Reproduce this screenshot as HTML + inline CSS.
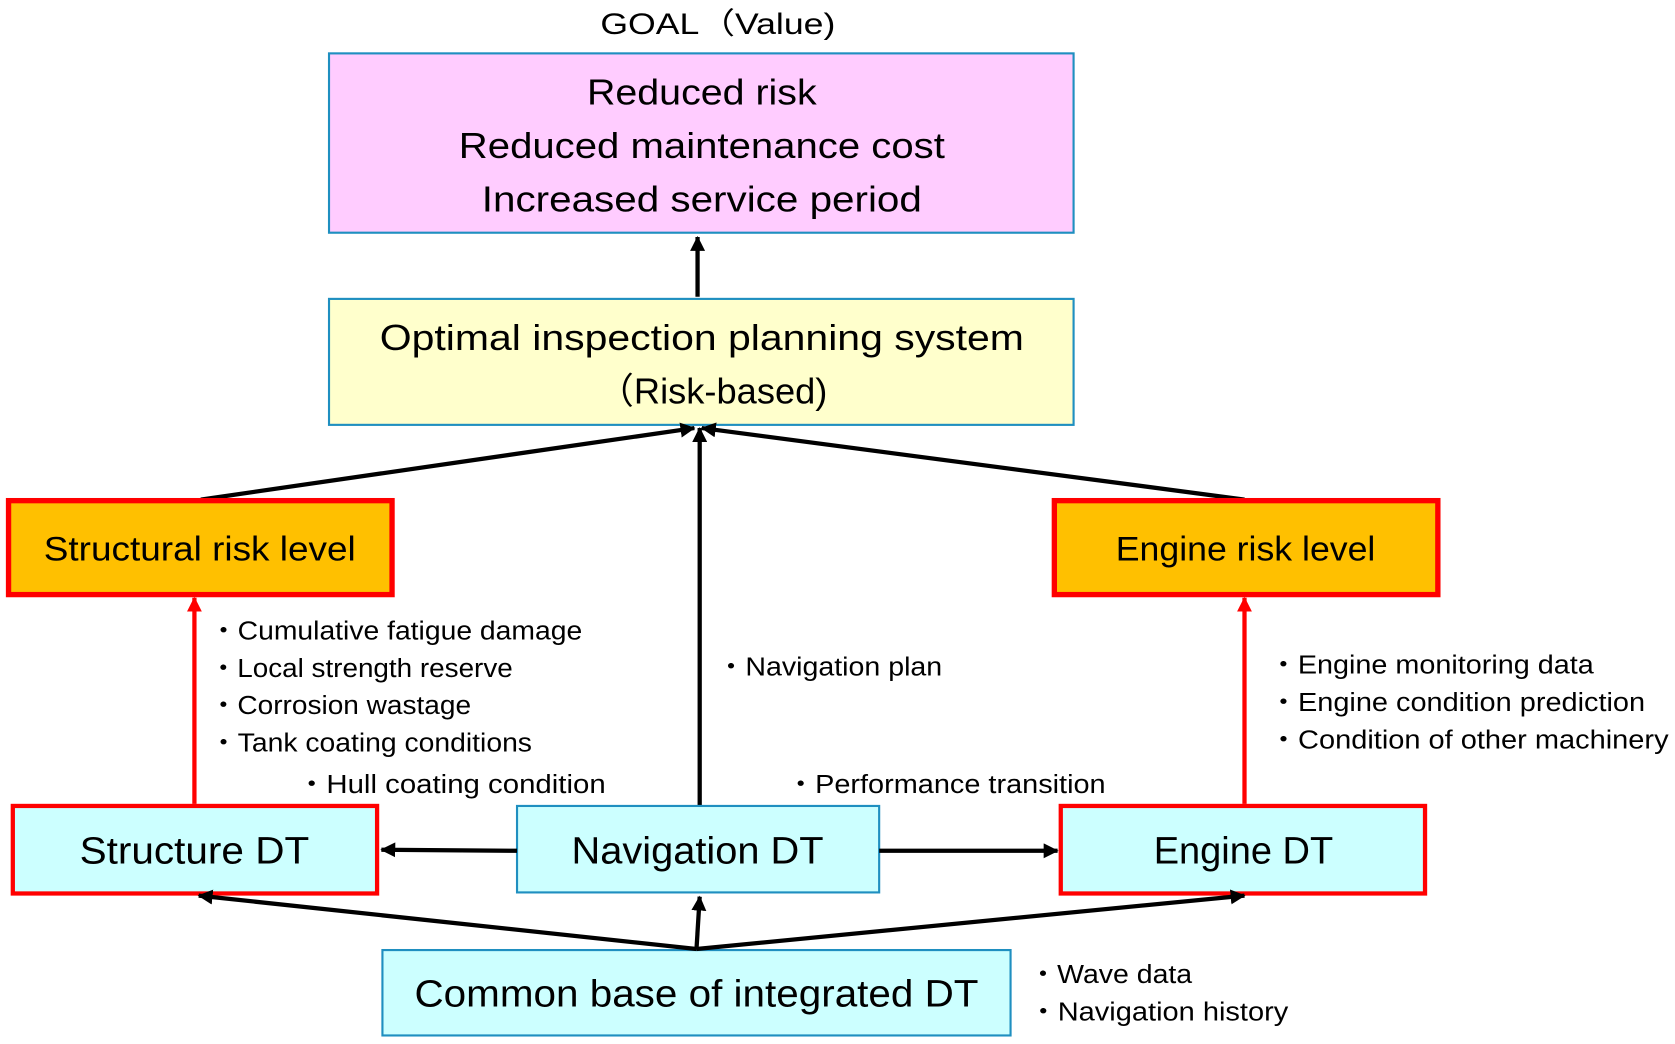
<!DOCTYPE html>
<html><head><meta charset="utf-8"><style>html,body{margin:0;padding:0;background:#fff}svg{display:block}</style></head><body>
<svg width="1675" height="1044" viewBox="0 0 1568 978" preserveAspectRatio="none" xmlns="http://www.w3.org/2000/svg" font-family="Liberation Sans, Noto Sans CJK JP, sans-serif">
<defs>
<marker id="ar" markerWidth="14" markerHeight="14" refX="13" refY="7" orient="auto" markerUnits="userSpaceOnUse"><path d="M0,0 L14,7 L0,14 z" fill="#f00"/></marker>
<marker id="ab2" markerWidth="14" markerHeight="14" refX="13" refY="7" orient="auto" markerUnits="userSpaceOnUse"><path d="M0,0 L14,7 L0,14 z" fill="#000"/></marker>
</defs>
<text x="672" y="32" font-size="28" text-anchor="middle" textLength="220" lengthAdjust="spacingAndGlyphs">GOAL（Value)</text>
<rect x="308" y="50" width="697" height="168" fill="#ffccff" stroke="#1f8fc0" stroke-width="2"/>
<g font-size="34" text-anchor="middle">
<text x="657" y="98" textLength="215" lengthAdjust="spacingAndGlyphs">Reduced risk</text>
<text x="657" y="148" textLength="455" lengthAdjust="spacingAndGlyphs">Reduced maintenance cost</text>
<text x="657" y="198" textLength="412" lengthAdjust="spacingAndGlyphs">Increased service period</text>
</g>
<line x1="653" y1="278" x2="653" y2="222" stroke="#000" stroke-width="4" marker-end="url(#ab2)"/>
<rect x="308" y="280" width="697" height="118" fill="#ffffcc" stroke="#1f8fc0" stroke-width="2"/>
<g font-size="34" text-anchor="middle">
<text x="657" y="328" textLength="603" lengthAdjust="spacingAndGlyphs">Optimal inspection planning system</text>
<text x="667" y="378" textLength="215" lengthAdjust="spacingAndGlyphs">（Risk-based)</text>
</g>
<line x1="188" y1="468" x2="650" y2="401" stroke="#000" stroke-width="4" marker-end="url(#ab2)"/>
<line x1="1165" y1="468" x2="657" y2="401" stroke="#000" stroke-width="4" marker-end="url(#ab2)"/>
<line x1="655" y1="755" x2="655" y2="401" stroke="#000" stroke-width="4" marker-end="url(#ab2)"/>
<rect x="8" y="469" width="359" height="88" fill="#ffc000" stroke="#f00" stroke-width="5"/>
<text x="187" y="525" font-size="32" text-anchor="middle" textLength="292" lengthAdjust="spacingAndGlyphs">Structural risk level</text>
<rect x="987" y="469" width="359" height="88" fill="#ffc000" stroke="#f00" stroke-width="5"/>
<text x="1166" y="525" font-size="32" text-anchor="middle" textLength="243" lengthAdjust="spacingAndGlyphs">Engine risk level</text>
<line x1="182" y1="753" x2="182" y2="560" stroke="#f00" stroke-width="4" marker-end="url(#ar)"/>
<line x1="1165" y1="753" x2="1165" y2="560" stroke="#f00" stroke-width="4" marker-end="url(#ar)"/>
<g font-size="24" lengthAdjust="spacingAndGlyphs">
<text x="196" y="599" textLength="349" lengthAdjust="spacingAndGlyphs">・Cumulative fatigue damage</text>
<text x="196" y="634" textLength="284" lengthAdjust="spacingAndGlyphs">・Local strength reserve</text>
<text x="196" y="669" textLength="245" lengthAdjust="spacingAndGlyphs">・Corrosion wastage</text>
<text x="196" y="704" textLength="302" lengthAdjust="spacingAndGlyphs">・Tank coating conditions</text>
<text x="278" y="743" textLength="289" lengthAdjust="spacingAndGlyphs">・Hull coating condition</text>
<text x="671" y="633" textLength="211" lengthAdjust="spacingAndGlyphs">・Navigation plan</text>
<text x="736" y="743" textLength="299" lengthAdjust="spacingAndGlyphs">・Performance transition</text>
<text x="1188" y="631" textLength="304" lengthAdjust="spacingAndGlyphs">・Engine monitoring data</text>
<text x="1188" y="666" textLength="352" lengthAdjust="spacingAndGlyphs">・Engine condition prediction</text>
<text x="1188" y="701" textLength="374" lengthAdjust="spacingAndGlyphs">・Condition of other machinery</text>
<text x="963" y="921" textLength="153" lengthAdjust="spacingAndGlyphs">・Wave data</text>
<text x="963" y="956" textLength="243" lengthAdjust="spacingAndGlyphs">・Navigation history</text>
</g>
<rect x="12" y="755" width="341" height="82" fill="#ccffff" stroke="#f00" stroke-width="4"/>
<text x="182" y="809" font-size="36" text-anchor="middle" textLength="215" lengthAdjust="spacingAndGlyphs">Structure DT</text>
<rect x="484" y="755" width="339" height="81" fill="#ccffff" stroke="#1f8fc0" stroke-width="2"/>
<text x="653" y="809" font-size="36" text-anchor="middle" textLength="236" lengthAdjust="spacingAndGlyphs">Navigation DT</text>
<rect x="993" y="755" width="341" height="82" fill="#ccffff" stroke="#f00" stroke-width="4"/>
<text x="1164" y="809" font-size="36" text-anchor="middle" textLength="168" lengthAdjust="spacingAndGlyphs">Engine DT</text>
<line x1="484" y1="797" x2="357" y2="796" stroke="#000" stroke-width="4" marker-end="url(#ab2)"/>
<line x1="823" y1="797" x2="990" y2="797" stroke="#000" stroke-width="4" marker-end="url(#ab2)"/>
<rect x="358" y="890" width="588" height="80" fill="#ccffff" stroke="#1f8fc0" stroke-width="2"/>
<text x="652" y="943" font-size="36" text-anchor="middle" textLength="528" lengthAdjust="spacingAndGlyphs">Common base of integrated DT</text>
<line x1="652" y1="889" x2="186" y2="839" stroke="#000" stroke-width="4" marker-end="url(#ab2)"/>
<line x1="652" y1="889" x2="1165" y2="839" stroke="#000" stroke-width="4" marker-end="url(#ab2)"/>
<line x1="652" y1="889" x2="655" y2="840" stroke="#000" stroke-width="4" marker-end="url(#ab2)"/>
</svg>
</body></html>
